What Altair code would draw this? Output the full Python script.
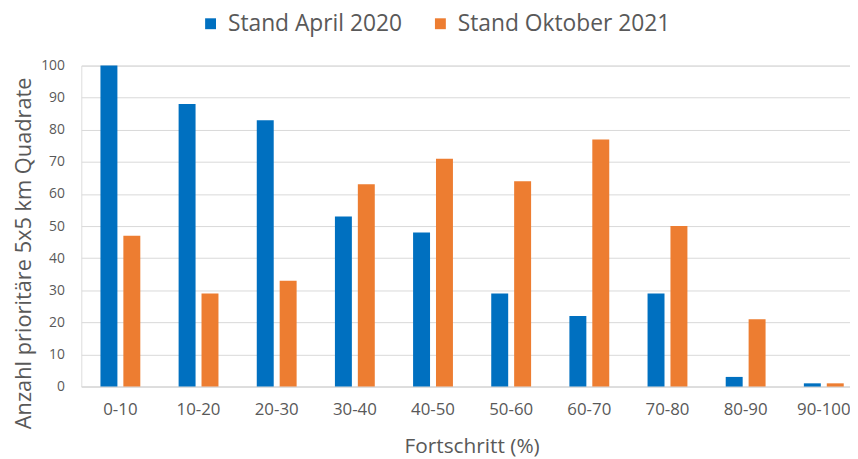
import altair as alt
import pandas as pd

categories = ["0-10", "10-20", "20-30", "30-40", "40-50", "50-60", "60-70", "70-80", "80-90", "90-100"]
april_2020 = [100, 88, 83, 53, 48, 29, 22, 29, 3, 1]
oktober_2021 = [47, 29, 33, 63, 71, 64, 77, 50, 21, 1]
series_names = ["Stand April 2020", "Stand Oktober 2021"]
series_colors = ["#0070C0", "#ED7D31"]
y_ticks = [0, 10, 20, 30, 40, 50, 60, 70, 80, 90, 100]

rows = []
for c, a, o in zip(categories, april_2020, oktober_2021):
    rows.append({"Kategorie": c, "Serie": series_names[0], "Wert": a})
    rows.append({"Kategorie": c, "Serie": series_names[1], "Wert": o})
df = pd.DataFrame(rows)

FONT = "Open Sans"
GREY = "#595959"

chart = alt.Chart(df).mark_bar().encode(
    x=alt.X("Kategorie:N", sort=categories,
            scale=alt.Scale(range=[0, 789], paddingInner=0.49, paddingOuter=0.245),
            axis=alt.Axis(title="Fortschritt (%)", labelAngle=0, labelFontSize=17,
                          titleFontSize=21, labelPadding=15,
                          titleX=394, titleY=67, titleAlign="center",
                          titleBaseline="alphabetic", titleAnchor="start",
                          ticks=False, domainColor="#d9d9d9", labelColor=GREY,
                          titleColor=GREY, titleFontWeight="normal")),
    xOffset=alt.XOffset("Serie:N", sort=series_names,
                        scale=alt.Scale(paddingInner=0.26)),
    y=alt.Y("Wert:Q", scale=alt.Scale(domain=[0, 100]),
            axis=alt.Axis(title="Anzahl prioritäre 5x5 km Quadrate", values=y_ticks,
                          labelFontSize=14, titleFontSize=22, domain=False, ticks=False,
                          labelPadding=17, titleX=-51, titleY=189, titleAngle=270,
                          titleAlign="center", titleBaseline="alphabetic",
                          gridColor="#d9d9d9",
                          labelColor=GREY, titleColor=GREY, titleFontWeight="normal")),
    color=alt.Color("Serie:N", sort=series_names,
                    scale=alt.Scale(domain=series_names, range=series_colors),
                    legend=alt.Legend(title=None, orient="none", direction="horizontal",
                                      legendX=119, legendY=-54, symbolType="square",
                                      symbolSize=121, labelFontSize=23, labelColor=GREY,
                                      labelLimit=400, labelOffset=6,
                                      columnPadding=27, symbolStrokeWidth=0)),
).properties(
    width=776, height=324,
    autosize=alt.AutoSizeParams(type="none"),
    padding={"left": 74, "top": 56, "right": 0, "bottom": 71},
).configure_view(stroke=None).configure(font=FONT)

chart.save("out.html", embed_options={"renderer": "svg", "actions": False})
